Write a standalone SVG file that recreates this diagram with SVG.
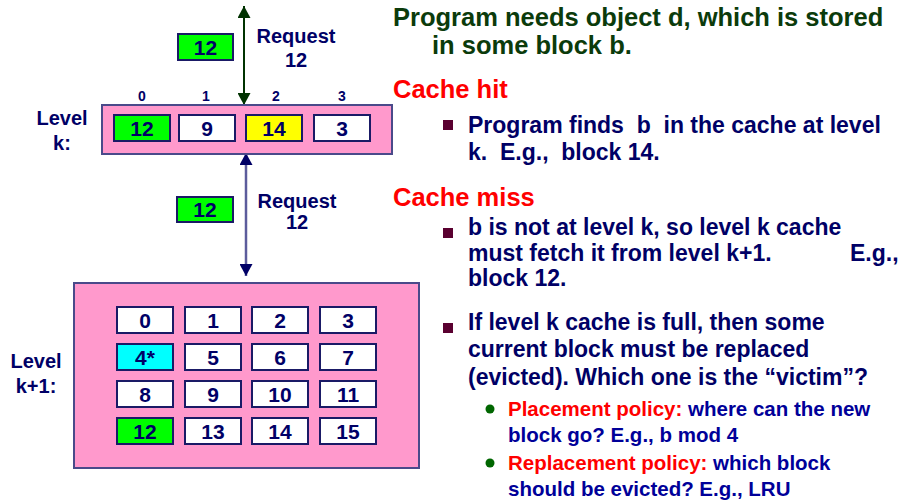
<svg xmlns="http://www.w3.org/2000/svg" width="907" height="502" viewBox="0 0 907 502">
<defs>
<marker id="ahG" viewBox="0 0 12 13" refX="12" refY="6.5" markerWidth="12" markerHeight="13" markerUnits="userSpaceOnUse" orient="auto-start-reverse"><path d="M0,0 L12,6.5 L0,13 z" fill="#003300"/></marker>
<marker id="ahB" viewBox="0 0 12 13" refX="12" refY="6.5" markerWidth="12" markerHeight="13" markerUnits="userSpaceOnUse" orient="auto-start-reverse"><path d="M0,0 L12,6.5 L0,13 z" fill="#000066"/></marker>
</defs>
<style>
text{font-family:"Liberation Sans",Arial,sans-serif;font-weight:bold}
.cell{stroke:#1a1a66;stroke-width:2}
.w{fill:#ffffff}.g{fill:#00ff00}.y{fill:#ffff00}.c{fill:#00ffff}
.ct{font-size:21px;fill:#000066;text-anchor:middle}
.idx{font-size:14px;fill:#000066;text-anchor:middle}
.lbl{font-size:20px;fill:#000066;text-anchor:middle}
.cache{fill:#ff99cc;stroke:#4a4a8a;stroke-width:2}
.title{font-size:25.5px;fill:#0b3b0b}
.head{font-size:25.5px;fill:#ff0000}
.bt{font-size:23px;fill:#000066}
.sb{font-size:20.5px;fill:#000099}
.red{fill:#ff0000}
.sq{fill:#5a0030}
.dot{fill:#006600}
</style>

<g id="connectors">
<line x1="244" y1="6" x2="244" y2="105" stroke="#003300" stroke-width="2" marker-start="url(#ahG)" marker-end="url(#ahG)"/>
<line x1="246" y1="153" x2="246" y2="276" stroke="#5c5c9c" stroke-width="2.5" marker-start="url(#ahB)" marker-end="url(#ahB)"/>
</g>

<g id="request-top">
<rect class="cell g" x="178" y="34" width="55" height="26"/>
<text class="ct" x="205.5" y="55">12</text>
<text class="lbl" x="296" y="43">Request</text>
<text class="lbl" x="296" y="67">12</text>
</g>

<g id="request-mid">
<rect class="cell g" x="177" y="197" width="56" height="25"/>
<text class="ct" x="205" y="217">12</text>
<text class="lbl" x="297" y="208">Request</text>
<text class="lbl" x="297" y="229">12</text>
</g>

<g id="level-k">
<text class="lbl" x="62" y="125">Level</text>
<text class="lbl" x="62" y="150">k:</text>
<text class="idx" x="142" y="101">0</text>
<text class="idx" x="206" y="101">1</text>
<text class="idx" x="276" y="101">2</text>
<text class="idx" x="342" y="101">3</text>
<rect class="cache" x="102" y="105" width="290" height="49"/>
<rect class="cell g" x="114" y="115" width="56" height="26"/><text class="ct" x="142" y="136">12</text>
<rect class="cell w" x="179" y="115" width="56" height="26"/><text class="ct" x="207" y="136">9</text>
<rect class="cell y" x="246" y="115" width="56" height="26"/><text class="ct" x="274" y="136">14</text>
<rect class="cell w" x="314" y="115" width="56" height="26"/><text class="ct" x="342" y="136">3</text>
</g>

<g id="level-k1">
<text class="lbl" x="36" y="368">Level</text>
<text class="lbl" x="36" y="393">k+1:</text>
<rect class="cache" x="74" y="283" width="345" height="185"/>
<rect class="cell w" x="117" y="307" width="56" height="26"/><text class="ct" x="145" y="328">0</text>
<rect class="cell w" x="185" y="307" width="56" height="26"/><text class="ct" x="213" y="328">1</text>
<rect class="cell w" x="252" y="307" width="56" height="26"/><text class="ct" x="280" y="328">2</text>
<rect class="cell w" x="320" y="307" width="56" height="26"/><text class="ct" x="348" y="328">3</text>
<rect class="cell c" x="117" y="344" width="56" height="26"/><text class="ct" x="145" y="365">4*</text>
<rect class="cell w" x="185" y="344" width="56" height="26"/><text class="ct" x="213" y="365">5</text>
<rect class="cell w" x="252" y="344" width="56" height="26"/><text class="ct" x="280" y="365">6</text>
<rect class="cell w" x="320" y="344" width="56" height="26"/><text class="ct" x="348" y="365">7</text>
<rect class="cell w" x="117" y="381" width="56" height="26"/><text class="ct" x="145" y="402">8</text>
<rect class="cell w" x="185" y="381" width="56" height="26"/><text class="ct" x="213" y="402">9</text>
<rect class="cell w" x="252" y="381" width="56" height="26"/><text class="ct" x="280" y="402">10</text>
<rect class="cell w" x="320" y="381" width="56" height="26"/><text class="ct" x="348" y="402">11</text>
<rect class="cell g" x="117" y="418" width="56" height="26"/><text class="ct" x="145" y="439">12</text>
<rect class="cell w" x="185" y="418" width="56" height="26"/><text class="ct" x="213" y="439">13</text>
<rect class="cell w" x="252" y="418" width="56" height="26"/><text class="ct" x="280" y="439">14</text>
<rect class="cell w" x="320" y="418" width="56" height="26"/><text class="ct" x="348" y="439">15</text>
</g>

<g id="explanation">
<text class="title" x="393" y="26">Program needs object d, which is stored</text>
<text class="title" x="432" y="54">in some block b.</text>
<text class="head" x="393" y="98">Cache hit</text>
<rect class="sq" x="443" y="120" width="10" height="10"/>
<text class="bt" x="468" y="133" xml:space="preserve">Program finds  b  in the cache at level</text>
<text class="bt" x="468" y="160" xml:space="preserve">k.  E.g.,  block 14.</text>
<text class="head" x="393" y="206">Cache miss</text>
<rect class="sq" x="443" y="228" width="10" height="10"/>
<text class="bt" x="468" y="235">b is not at level k, so level k cache</text>
<text class="bt" x="468" y="261">must fetch it from level k+1.<tspan x="850">E.g.,</tspan></text>
<text class="bt" x="468" y="286">block 12.</text>
<rect class="sq" x="443" y="323" width="10" height="10"/>
<text class="bt" x="468" y="330">If level k cache is full, then some</text>
<text class="bt" x="468" y="357">current block must be replaced</text>
<text class="bt" x="468" y="385">(evicted). Which one is the “victim”?</text>
<circle class="dot" cx="490" cy="409" r="4.5"/>
<text class="sb" x="508" y="416"><tspan class="red">Placement policy:</tspan> where can the new</text>
<text class="sb" x="508" y="442">block go? E.g., b mod 4</text>
<circle class="dot" cx="490" cy="463" r="4.5"/>
<text class="sb" x="508" y="470"><tspan class="red">Replacement policy:</tspan> which block</text>
<text class="sb" x="508" y="496">should be evicted? E.g., LRU</text>
</g>
</svg>
